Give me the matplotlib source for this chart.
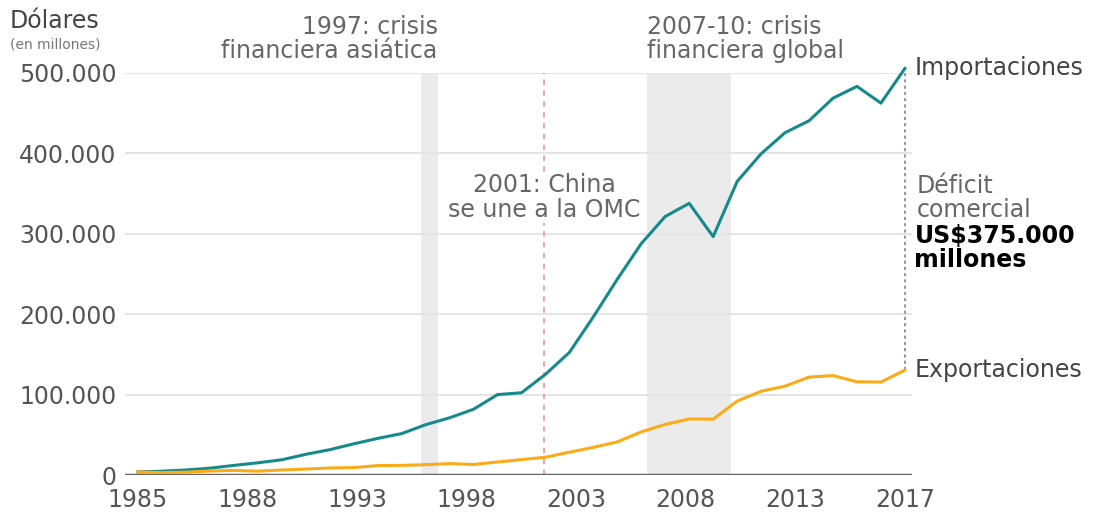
import matplotlib

matplotlib.use("Agg")
import matplotlib.pyplot as plt

# US trade with China, millions of dollars
years = list(range(1985, 2018))
imports = [3862, 4771, 6294, 8511, 11990, 15237, 18969, 25728, 31540, 38787,
           45543, 51513, 62558, 71169, 81788, 100018, 102278, 125193, 152436,
           196682, 243470, 287774, 321443, 337773, 296374, 364953, 399371,
           425619, 440430, 468475, 483202, 462420, 505470]
exports = [3856, 3106, 3497, 5021, 5755, 4806, 6278, 7418, 8763, 9282,
           11754, 11993, 12862, 14241, 13111, 16185, 19182, 22128, 28368,
           34428, 41192, 53673, 62937, 69733, 69497, 91911, 104122, 110516,
           121746, 123657, 115873, 115595, 130370]

yticks = [0, 100000, 200000, 300000, 400000, 500000]
ytick_labels = ["0", "100.000", "200.000", "300.000", "400.000", "500.000"]
xtick_labels = ["1985", "1988", "1993", "1998", "2003", "2008", "2013", "2017"]

asia_crisis = (1996.8, 1997.5)
global_crisis = (2006.25, 2009.75)
wto_year = 2001.95

TEAL = "#168a8a"
ORANGE = "#faab18"
GREY = "#666666"
FS = 17

fig = plt.figure(figsize=(11.15, 5.13), dpi=100)
ax = fig.add_axes([0.112, 0.074, 0.706, 0.784])

for x0, x1 in (asia_crisis, global_crisis):
    ax.fill_betweenx([0, 500000], x0, x1, color="#ebebeb", lw=0, zorder=0)

for y in yticks[1:]:
    ax.axhline(y, color="#e4e4e4", lw=1.5, zorder=1)
ax.axhline(0, color="#666666", lw=2.5, zorder=4)

ax.vlines(wto_year, 0, 500000, color="#e8a0a0", lw=1.3, ls=(0, (3, 3)), zorder=2)

ax.plot(years, imports, color=TEAL, lw=2.2, zorder=5, clip_on=False)
ax.plot(years, exports, color=ORANGE, lw=2.2, zorder=5, clip_on=False)

ax.vlines(years[-1], exports[-1], imports[-1], color="#999999", lw=1.5,
          ls=(0, (1.5, 1.5)), zorder=3)

ax.set_xlim(1984.45, 2017.3)
ax.set_ylim(0, 500000)
ax.set_yticks(yticks)
ax.set_yticklabels(ytick_labels)
xt = [1985 + i * 32 / 7 for i in range(8)]
ax.set_xticks(xt)
ax.set_xticklabels(xtick_labels)
ax.tick_params(length=0, labelsize=FS, labelcolor="#555555")
ax.tick_params(axis="y", pad=6)
ax.tick_params(axis="x", pad=9)
for s in ax.spines.values():
    s.set_visible(False)

fig.text(0.009, 0.935, "Dólares", fontsize=FS, color="#444444", va="bottom")
fig.text(0.009, 0.9, "(en millones)", fontsize=10, color="#777777", va="bottom")

ax.text(asia_crisis[1], 512000, "1997: crisis\nfinanciera asiática", ha="right",
        va="bottom", fontsize=FS, color=GREY, linespacing=1.0)
ax.text(global_crisis[0], 512000, "2007-10: crisis\nfinanciera global", ha="left",
        va="bottom", fontsize=FS, color=GREY, linespacing=1.0)
ax.text(wto_year, 345000, "2001: China\nse une a la OMC", ha="center", va="center",
        fontsize=FS, color=GREY, linespacing=1.05, zorder=3,
        bbox=dict(facecolor="white", edgecolor="none", pad=1))

ax.text(2017.4, imports[-1], "Importaciones", ha="left", va="center",
        fontsize=FS, color="#444444")
ax.text(2017.4, exports[-1], "Exportaciones", ha="left", va="center",
        fontsize=FS, color="#444444")
ax.text(2017.5, 314000, "Déficit\ncomercial", ha="left", va="bottom",
        fontsize=FS, color=GREY, linespacing=1.0)
ax.text(2017.4, 312000, "US$375.000\nmillones", ha="left", va="top",
        fontsize=FS, color="black", fontweight="bold", linespacing=1.0)

fig.savefig("out.png", dpi=100)
